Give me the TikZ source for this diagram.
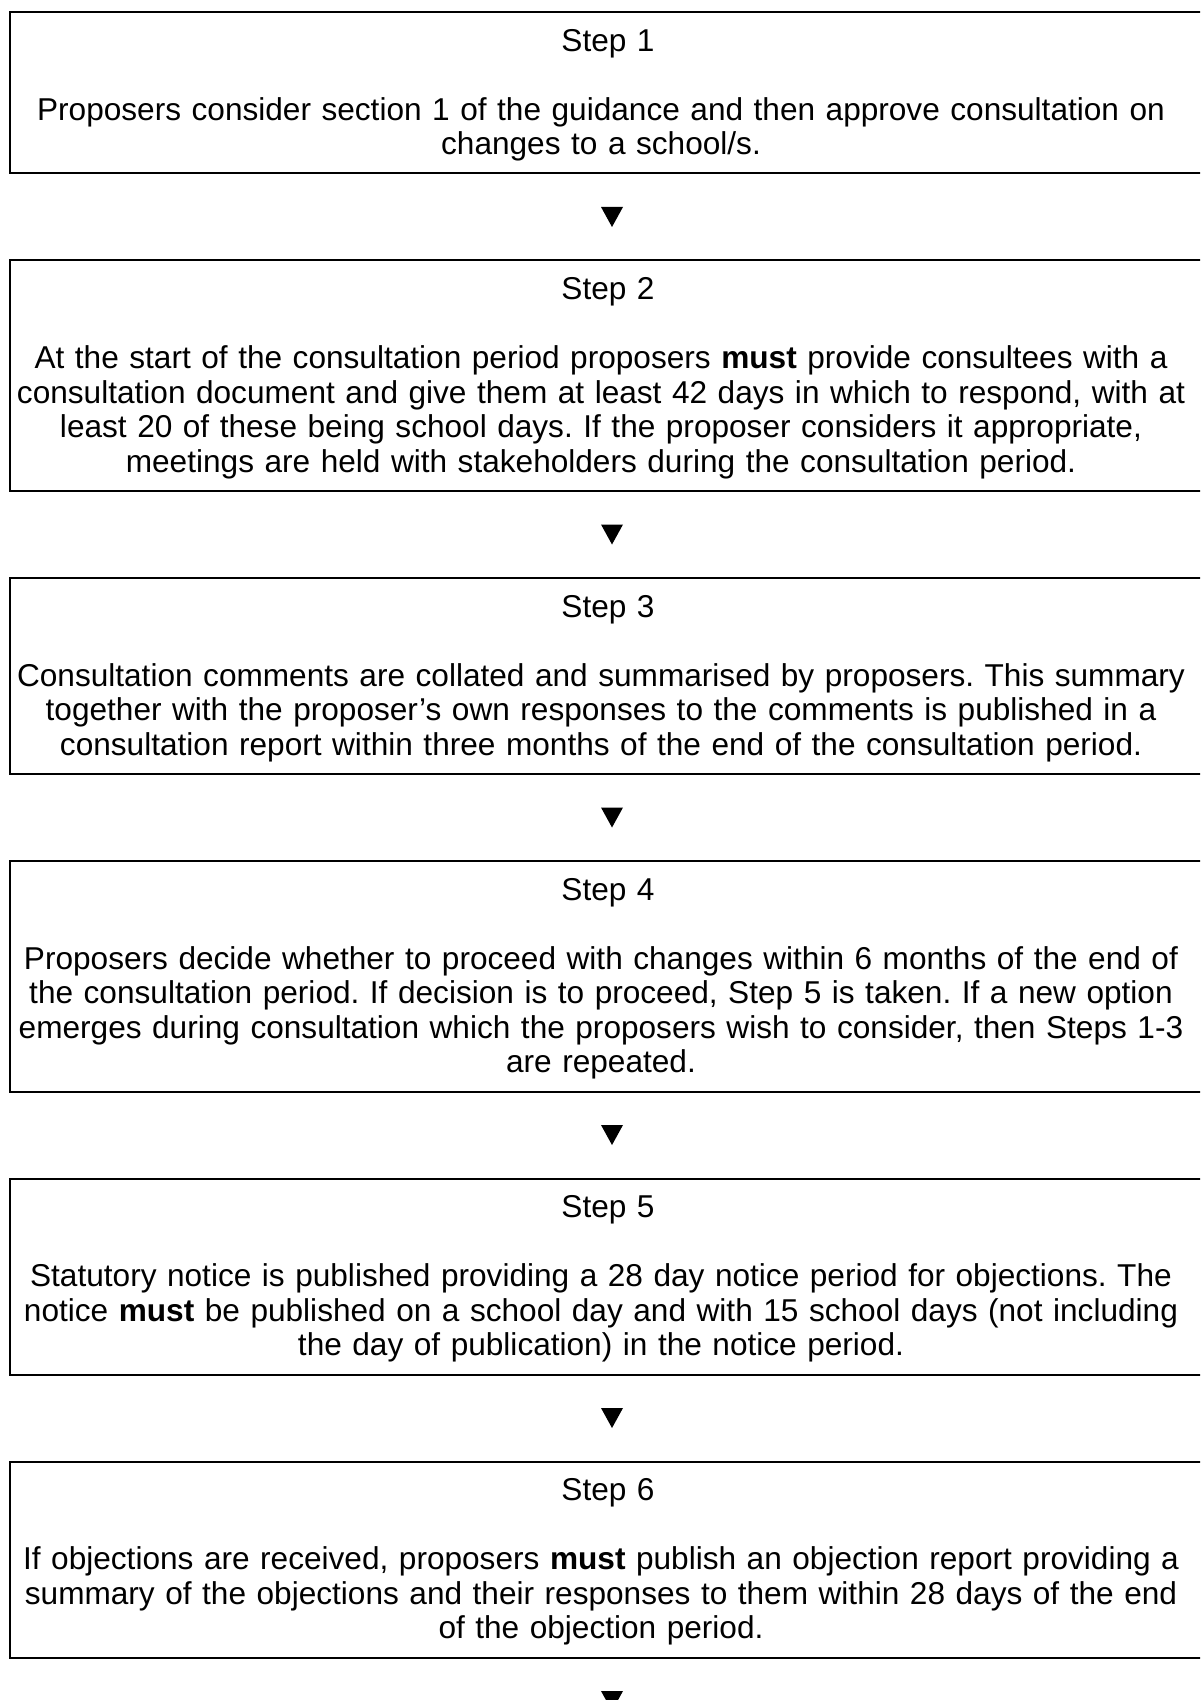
\documentclass[tikz,border=0pt]{standalone}
\usepackage{fontspec}
\setmainfont{Liberation Sans}
\usepackage{tikz}
\usetikzlibrary{positioning,calc}
\tikzset{
  stepbox/.style={draw, line width=1pt, text width=602pt,
    inner xsep=0pt, inner ysep=0pt,
    font=\fontsize{15.8pt}{17.25pt}\selectfont},
}
% first line and last line struts of a box
\newcommand{\topgap}{\rule{0pt}{19.7pt}}
\newcommand{\botgap}{\rule[-9.3pt]{0pt}{1pt}\par}
% title line of a box, text sits a little left of the box centre
\newcommand{\steptitle}[1]{\centering\rightskip=11pt plus 1fil\relax
  \topgap\hspace*{7pt}Step #1\\[17.25pt]}
\newcommand{\downtri}[1]{%
  \fill[black] #1 ++(-11,10) -- ++(22,0) -- ++(-11,-20) -- cycle;
}
\frenchspacing

\begin{document}
\begin{tikzpicture}[x=0.5pt, y=0.5pt]
    \clip (0,0) rectangle (1200,-1700);
    % Steps
    \node[stepbox, anchor=north] (s1) at (612,-11)
      {\steptitle{1}
       Proposers consider section 1 of the guidance and then approve consultation on\\
       changes to a school/s.\botgap};
    \node[stepbox, below=42.5pt of s1] (s2)
      {\steptitle{2}
       At the start of the consultation period proposers \textbf{must} provide consultees with a\\
       consultation document and give them at least 42 days in which to respond, with at\\
       least 20 of these being school days. If the proposer considers it appropriate,\\
       meetings are held with stakeholders during the consultation period.\botgap};
    \node[stepbox, below=42.5pt of s2] (s3)
      {\steptitle{3}
       Consultation comments are collated and summarised by proposers. This summary\\
       together with the proposer’s own responses to the comments is published in a\\
       consultation report within three months of the end of the consultation period.\botgap};
    \node[stepbox, below=42.5pt of s3] (s4)
      {\steptitle{4}
       Proposers decide whether to proceed with changes within 6 months of the end of\\
       the consultation period. If decision is to proceed, Step 5 is taken. If a new option\\
       emerges during consultation which the proposers wish to consider, then Steps 1-3\\
       are repeated.\botgap};
    \node[stepbox, below=42.5pt of s4] (s5)
      {\steptitle{5}
       Statutory notice is published providing a 28 day notice period for objections. The\\
       notice \textbf{must} be published on a school day and with 15 school days (not including\\
       the day of publication) in the notice period.\botgap};
    \node[stepbox, below=42.5pt of s5] (s6)
      {\steptitle{6}
       If objections are received, proposers \textbf{must} publish an objection report providing a\\
       summary of the objections and their responses to them within 28 days of the end\\
       of the objection period.\botgap};
    \coordinate[below=42.5pt of s6] (tail);
    % Arrows between steps
    \foreach \a/\b in {s1/s2, s2/s3, s3/s4, s4/s5, s5/s6}{
      \downtri{($(\a.south)!0.5!(\b.north)$)}
    }
    \downtri{($(s6.south)!0.5!(tail)$)}
  \end{tikzpicture}
\end{document}
